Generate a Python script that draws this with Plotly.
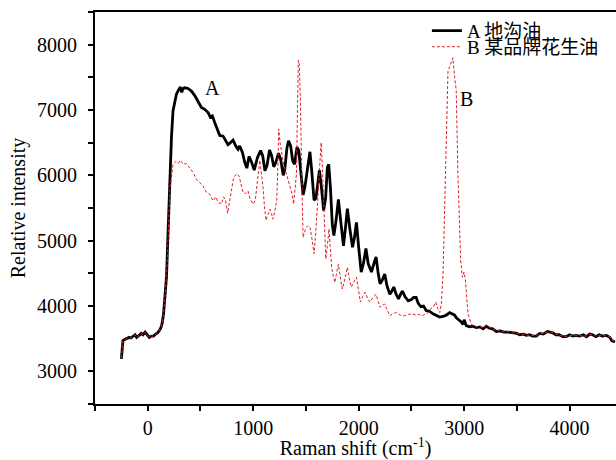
import plotly.graph_objects as go

# Raman spectra: A = 地沟油 (waste oil), B = 某品牌花生油 (brand peanut oil)

shift_a = [-250, -235, -215, -195, -175, -160, -140, -120, -105, -85, -60, -45, -25, -5, 15, 35, 55, 75, 95,
           120, 135, 150, 165, 178, 190, 202, 213, 225, 240, 256, 272, 290, 310, 322, 335, 350, 382, 414, 446,
           477, 509, 540, 572, 594, 613, 635, 657, 683, 714, 739, 761, 784, 809, 834, 856, 872, 898, 920, 940,
           960, 985, 1010, 1040, 1070, 1090, 1111, 1131, 1155, 1175, 1195, 1215, 1240, 1260, 1285, 1300, 1320,
           1335, 1355, 1375, 1392, 1415, 1432, 1457, 1473, 1490, 1514, 1538, 1555, 1577, 1595, 1614, 1628, 1645,
           1668, 1687, 1703, 1716, 1732, 1750, 1765, 1785, 1808, 1830, 1856, 1875, 1893, 1915, 1942, 1960, 1979,
           2000, 2024, 2045, 2069, 2090, 2121, 2145, 2165, 2185, 2203, 2225, 2247, 2270, 2296, 2315, 2333, 2355,
           2378, 2400, 2415, 2440, 2470, 2500, 2520, 2545, 2565, 2590, 2615, 2640, 2670, 2705, 2740, 2768, 2800,
           2830, 2863, 2890, 2910, 2926, 2950, 2970, 2989, 3000, 3020, 3053, 3080, 3116, 3150, 3180, 3210, 3240,
           3270, 3305, 3340, 3380, 3420, 3460, 3500, 3527, 3560, 3590, 3620, 3650, 3684, 3716, 3750, 3790, 3811,
           3840, 3870, 3900, 3936, 3969, 4000, 4030, 4060, 4095, 4130, 4160, 4190, 4219, 4250, 4280, 4310, 4348,
           4380, 4400, 4430]
intensity_a = [3190, 3470, 3490, 3500, 3520, 3510, 3540, 3560, 3520, 3550, 3580, 3560, 3600, 3560, 3520, 3540,
               3540, 3570, 3590, 3650, 3720, 3880, 4150, 4450, 5000, 5560, 6100, 6580, 6990, 7140, 7240, 7300,
               7350, 7270, 7330, 7340, 7330, 7290, 7220, 7130, 7040, 7010, 6960, 6890, 6910, 6810, 6710, 6610,
               6600, 6530, 6470, 6500, 6540, 6450, 6400, 6450, 6350, 6200, 6110, 6290, 6200, 6080, 6270, 6380,
               6300, 6070, 6150, 6390, 6300, 6130, 6200, 6340, 6250, 6000, 6100, 6420, 6530, 6450, 6220, 6170,
               6430, 6380, 6020, 5700, 5820, 6120, 6360, 6070, 5620, 5650, 5870, 6080, 5850, 5460, 5660, 6120,
               6170, 5820, 5250, 5080, 5300, 5630, 5300, 4920, 5200, 5490, 5200, 4900, 5050, 5280, 4900, 4520,
               4650, 4880, 4650, 4520, 4650, 4750, 4500, 4340, 4400, 4490, 4300, 4180, 4230, 4290, 4180, 4110,
               4190, 4230, 4140, 4080, 4100, 4130, 4130, 4040, 3990, 4000, 3930, 3920, 3880, 3850, 3830, 3840,
               3860, 3900, 3880, 3860, 3820, 3790, 3760, 3720, 3790, 3700, 3680, 3690, 3670, 3680, 3650, 3690,
               3660, 3650, 3610, 3620, 3600, 3600, 3590, 3580, 3560, 3570, 3550, 3560, 3540, 3540, 3580, 3570,
               3610, 3600, 3590, 3560, 3560, 3530, 3530, 3560, 3540, 3550, 3540, 3560, 3530, 3570, 3560, 3530,
               3560, 3540, 3550, 3520, 3470, 3450]

shift_b = [-250, -235, -215, -195, -175, -160, -140, -120, -105, -85, -60, -45, -25, -5, 15, 35, 55, 75, 95,
           120, 135, 150, 165, 178, 190, 200, 210, 225, 240, 265, 287, 310, 335, 367, 398, 429, 461, 493, 524,
           556, 588, 619, 645, 667, 699, 720, 739, 757, 777, 793, 815, 841, 866, 888, 903, 929, 951, 970, 999,
           1020, 1037, 1050, 1063, 1080, 1093, 1108, 1122, 1140, 1159, 1175, 1186, 1205, 1223, 1235, 1242, 1255,
           1271, 1290, 1316, 1335, 1353, 1370, 1383, 1398, 1410, 1420, 1428, 1437, 1447, 1460, 1473, 1490, 1503,
           1520, 1540, 1560, 1577, 1592, 1607, 1625, 1644, 1657, 1670, 1688, 1705, 1719, 1730, 1744, 1760, 1774,
           1790, 1808, 1825, 1845, 1870, 1893, 1912, 1931, 1955, 1979, 1998, 2016, 2040, 2061, 2085, 2106, 2135,
           2165, 2185, 2203, 2225, 2247, 2270, 2296, 2320, 2359, 2395, 2434, 2470, 2508, 2540, 2570, 2601, 2630,
           2660, 2694, 2715, 2731, 2750, 2769, 2784, 2800, 2812, 2822, 2835, 2847, 2860, 2875, 2894, 2910, 2925,
           2941, 2955, 2967, 2984, 2999, 3012, 3025, 3037, 3053, 3067, 3090, 3116, 3150, 3180, 3210, 3240, 3270,
           3305, 3340, 3380, 3420, 3460, 3500, 3527, 3560, 3590, 3620, 3650, 3684, 3716, 3750, 3790, 3811, 3840,
           3870, 3900, 3936, 3969, 4000, 4030, 4060, 4095, 4130, 4160, 4190, 4219, 4250, 4280, 4310, 4348, 4380,
           4400, 4430]
intensity_b = [3200, 3470, 3490, 3500, 3520, 3510, 3540, 3560, 3520, 3550, 3580, 3560, 3600, 3560, 3520, 3540,
               3540, 3570, 3590, 3650, 3720, 3880, 4150, 4450, 4900, 5400, 5800, 5970, 6170, 6210, 6180, 6230,
               6170, 6180, 6120, 6045, 5940, 5890, 5840, 5740, 5710, 5610, 5670, 5590, 5560, 5670, 5610, 5420,
               5590, 5770, 5970, 6020, 5990, 5840, 5740, 5720, 5760, 5640, 5560, 5620, 5820, 6050, 6230, 6000,
               5820, 5500, 5310, 5400, 5480, 5400, 5330, 5450, 5610, 6200, 6710, 6500, 6330, 6150, 6020, 5900,
               5820, 5700, 5560, 5800, 6020, 7000, 7760, 7700, 7190, 6000, 5050, 5150, 5200, 5230, 5200, 5000,
               4800, 5100, 5510, 6100, 6500, 6100, 5560, 4720, 4950, 5180, 4900, 4590, 4450, 4360, 4500, 4640,
               4450, 4260, 4420, 4590, 4420, 4290, 4370, 4440, 4250, 4060, 4150, 4210, 4120, 4060, 4130, 4180,
               4070, 3980, 4010, 4030, 3940, 3850, 3880, 3900, 3860, 3850, 3870, 3880, 3860, 3870, 3850, 3870,
               3900, 3980, 4000, 4060, 3960, 3900, 4030, 4490, 5300, 6020, 7100, 7600, 7650, 7730, 7800, 7500,
               7300, 6020, 5200, 4700, 4440, 4520, 4400, 4100, 3880, 3800, 3720, 3700, 3680, 3690, 3660, 3700,
               3670, 3650, 3620, 3630, 3600, 3610, 3590, 3580, 3570, 3560, 3560, 3550, 3550, 3540, 3570, 3580,
               3600, 3610, 3590, 3570, 3550, 3540, 3530, 3550, 3550, 3540, 3550, 3550, 3540, 3560, 3570, 3540,
               3550, 3550, 3540, 3530, 3480, 3450]

serif = "Liberation Serif, Times New Roman, Noto Sans CJK SC, serif"

fig = go.Figure()
fig.add_trace(go.Scatter(x=shift_a, y=intensity_a, mode="lines", name="A 地沟油", showlegend=True,
                         line=dict(color="black", width=2.8), legend="legend"))
fig.add_trace(go.Scatter(x=shift_b, y=intensity_b, mode="lines", name="B 某品牌花生油", showlegend=True,
                         line=dict(color="rgb(225,30,40)", width=1, dash="3px,2px"), legend="legend2"))

fig.add_annotation(x=613, y=7340, text="A", showarrow=False, font=dict(family=serif, size=20, color="black"))
fig.add_annotation(x=3021, y=7170, text="B", showarrow=False, font=dict(family=serif, size=20, color="black"))

legend_style = dict(xanchor="left", yanchor="middle", bgcolor="rgba(0,0,0,0)", borderwidth=0,
                    itemwidth=30, font=dict(family=serif, size=19, color="black"))

fig.update_layout(
    width=616, height=460,
    margin=dict(l=95, r=0, t=12, b=56, autoexpand=False),
    showlegend=True,
    paper_bgcolor="white", plot_bgcolor="white",
    font=dict(family=serif, size=20, color="black"),
    legend=dict(x=0.637, y=0.952, **legend_style),
    legend2=dict(x=0.637, y=0.911, **legend_style),
    xaxis=dict(range=[-500, 4440], showgrid=False, zeroline=False,
               showline=True, linecolor="black", linewidth=2, mirror=True,
               ticks="outside", ticklen=5, tickwidth=1.5, tickcolor="black",
               tickvals=[0, 1000, 2000, 3000, 4000],
               minor=dict(tickvals=[-500, 500, 1500, 2500, 3500], ticks="outside", ticklen=5,
                          tickwidth=1.5, tickcolor="black"),
               tickfont=dict(family=serif, size=20),
               title=dict(text="Raman shift (cm<sup>-1</sup>)", font=dict(family=serif, size=20), standoff=6)),
    yaxis=dict(range=[2500, 8500], showgrid=False, zeroline=False,
               showline=True, linecolor="black", linewidth=2,
               ticks="outside", ticklen=5, tickwidth=1.5, tickcolor="black",
               tickvals=[3000, 4000, 5000, 6000, 7000, 8000],
               minor=dict(tickvals=[2500, 3500, 4500, 5500, 6500, 7500, 8500], ticks="outside", ticklen=5,
                          tickwidth=1.5, tickcolor="black"),
               tickfont=dict(family=serif, size=20), ticklabelstandoff=7,
               title=dict(text="Relative intensity", font=dict(family=serif, size=20), standoff=6)),
)

# the page's default body margin would shift the chart, drop it
fig.write_html("out.html", config={"displayModeBar": False},
               post_script="document.body.style.margin='0';")
